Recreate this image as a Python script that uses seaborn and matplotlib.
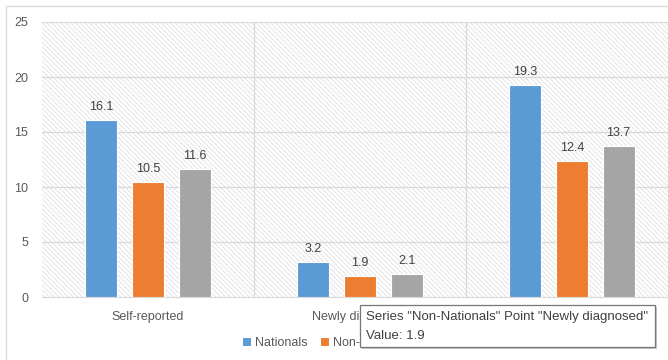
import matplotlib.pyplot as plt
import matplotlib.patches as mpatches
import pandas as pd
import numpy as np
import seaborn as sns

categories = ["Self-reported", "Newly diagnosed", "Total"]
series = ["Nationals", "Non-Nationals", "Total"]
nationals = [16.1, 3.2, 19.3]
non_nationals = [10.5, 1.9, 12.4]
total = [11.6, 2.1, 13.7]
colors = ["#5B9BD5", "#ED7D31", "#A5A5A5"]
yticks = [0, 5, 10, 15, 20, 25]

rows = []
for s, vals in zip(series, [nationals, non_nationals, total]):
    for c, v in zip(categories, vals):
        rows.append({"category": c, "series": s, "value": v})
df = pd.DataFrame(rows)

sns.set_style("white")
plt.rcParams['font.family'] = ['Liberation Sans', 'DejaVu Sans']
plt.rcParams['hatch.linewidth'] = 0.7

fig = plt.figure(figsize=(6.68, 3.6), dpi=100)
ax = fig.add_axes([42/668, 1-297/360, 636/668, 275/360])

# hatched plot-area background
bg = mpatches.Rectangle((0, 0), 1, 1, transform=ax.transAxes, facecolor="white",
                        edgecolor="#E3E3E3", hatch="\\" * 7, linewidth=0, zorder=0)
ax.add_patch(bg)

sns.barplot(data=df, x="category", y="value", hue="series", hue_order=series,
            palette=colors, saturation=1, width=0.66, gap=0.31, edgecolor="white",
            linewidth=0.8, ax=ax, zorder=3)

for cont in ax.containers:
    ax.bar_label(cont, fmt="%.1f", padding=5, fontsize=9, color="#404040")

ax.set_ylim(0, 25)
ax.set_xlim(-0.5, 2.5)
ax.set_yticks(yticks)
ax.set_xlabel("")
ax.set_ylabel("")
# third category label sits under the tooltip in the reference
ax.set_xticks(range(len(categories)), categories[:2] + [""])
for v in yticks[1:]:
    ax.axhline(v, color="#D9D9D9", linewidth=0.9, zorder=1)
for xv in [0.5, 1.5]:
    ax.axvline(xv, color="#D9D9D9", linewidth=0.9, zorder=1)
for sp in ["top", "right", "left"]:
    ax.spines[sp].set_visible(False)
ax.spines["bottom"].set_color("#D9D9D9")
ax.tick_params(axis="both", length=0, labelsize=9, labelcolor="#595959")
ax.tick_params(axis="x", pad=10)
ax.tick_params(axis="y", pad=10)

handles, labels = ax.get_legend_handles_labels()
ax.legend_.remove()
fig.legend(handles, labels, loc="center", bbox_to_anchor=(353/668, 1-343/360), ncol=3,
           frameon=False, handlelength=0.7, handleheight=0.7, handletextpad=0.3,
           columnspacing=1.0, fontsize=9, labelcolor="#595959")

# chart border
fig.patches.append(mpatches.Rectangle((6/668, -0.1), 1.2, 1-6/360+0.1, transform=fig.transFigure,
                                      fill=False, edgecolor="#D9D9D9", linewidth=0.9))

# tooltip
x0, y0, w, h = 360/668, 1-347/360, 295/668, 42/360
fig.patches.append(mpatches.Rectangle((x0 + 2/668, y0 - 2/360), w, h, transform=fig.transFigure,
                                      facecolor="#C8C8C8", edgecolor="none", zorder=10))
fig.patches.append(mpatches.Rectangle((x0, y0), w, h, transform=fig.transFigure,
                                      facecolor="white", edgecolor="#767676", linewidth=0.9, zorder=11))
fig.text(366/668, 1-317/360, 'Series "Non-Nationals" Point "Newly diagnosed"', fontsize=9.5,
         color="#404040", va="center", ha="left", zorder=12)
fig.text(366/668, 1-336/360, 'Value: 1.9', fontsize=9.5, color="#404040",
         va="center", ha="left", zorder=12)

fig.savefig("out.png", dpi=100)
